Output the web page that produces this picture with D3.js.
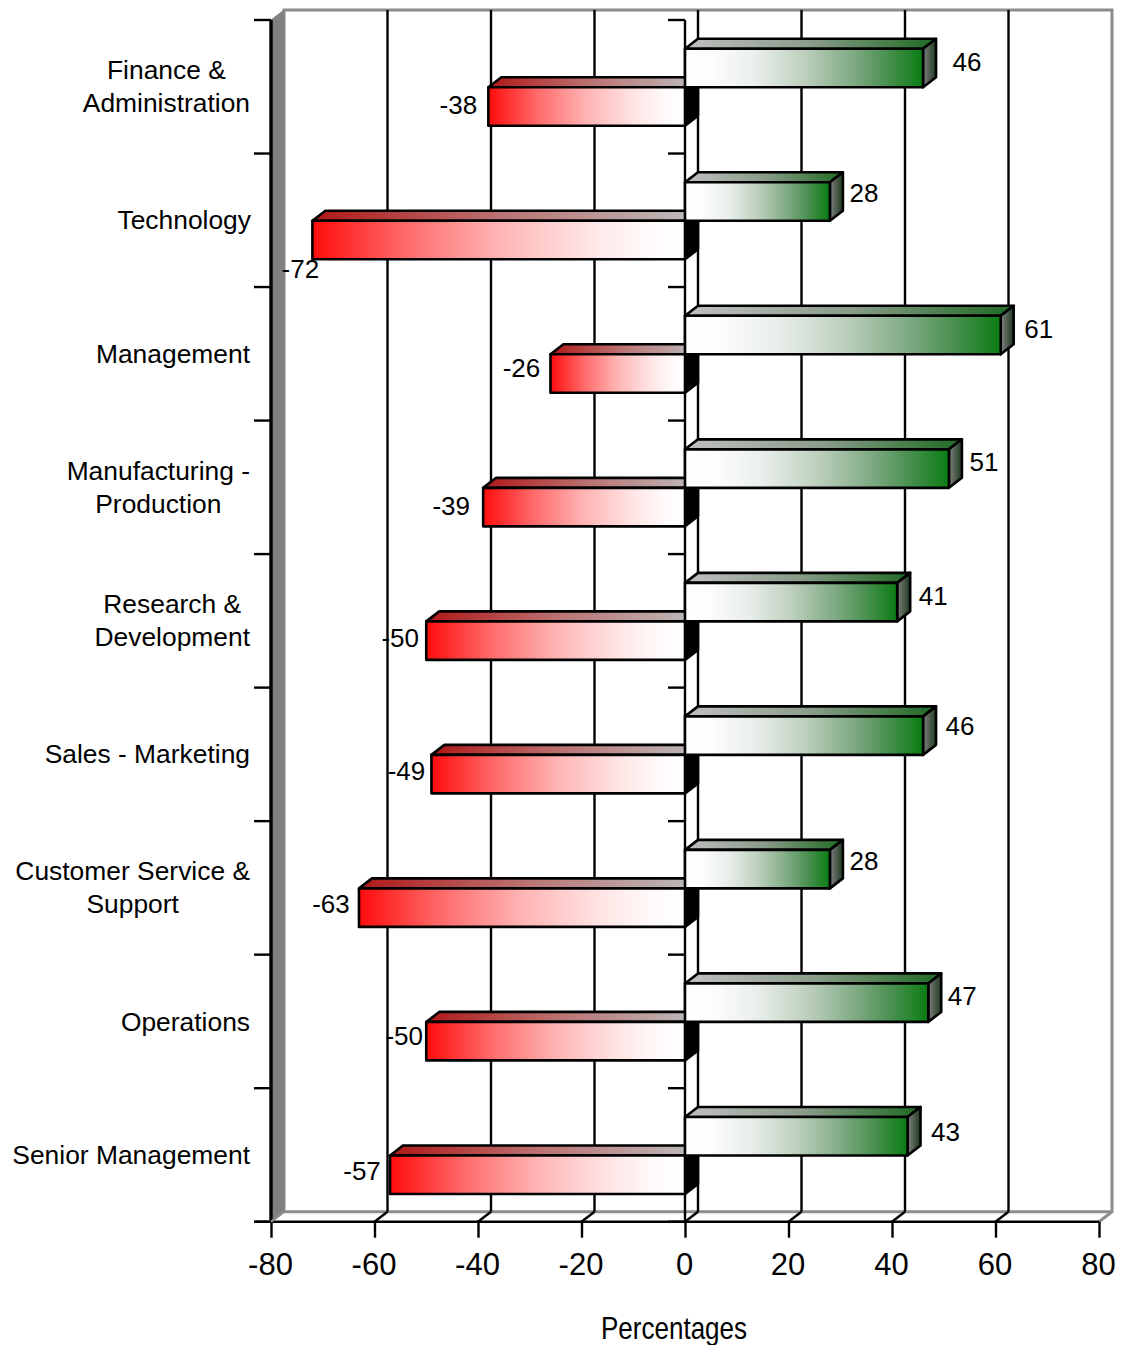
<!DOCTYPE html>
<html>
<head>
<meta charset="utf-8">
<script src="https://cdn.jsdelivr.net/npm/d3@7/dist/d3.min.js"></script>
<style>
html,body{margin:0;padding:0;background:#fff}
svg{display:block}
text{font-family:"Liberation Sans",Arial,sans-serif;fill:#000}
</style>
</head>
<body>
<svg id="chart" width="1129" height="1345"></svg>
<script>
// Department rows, top to bottom, each with a positive and a negative share
const categories = [
  ["Finance &", "Administration"],
  ["Technology"],
  ["Management"],
  ["Manufacturing -", "Production"],
  ["Research &", "Development"],
  ["Sales - Marketing"],
  ["Customer Service &", "Support"],
  ["Operations"],
  ["Senior Management"]
];
const positiveValues = [46, 28, 61, 51, 41, 46, 28, 47, 43];
const negativeValues = [-38, -72, -26, -39, -50, -49, -63, -50, -57];
const xTicks = [-80, -60, -40, -20, 0, 20, 40, 60, 80];

// Hand-placed value labels: centre of each label, measured from its bar end and row midline
const positiveLabelOffsets = [[44, -25], [34, -28], [38, -25], [35, -26], [36, -25], [37, -29], [34, -27], [34, -26], [38, -24]];
const negativeLabelOffsets = [[-30, 18], [-12, 48], [-29, 14], [-32, 18], [-26, 17], [-25, 16], [-28, 16], [-22, 14], [-28, 15]];

// Right-edge x and centre y of each category label block
const categoryAnchors = [
  [250, 86], [251, 219.5], [250, 353.5], [250, 487], [250, 620], [250, 753.5], [250, 887], [250, 1021.5], [250, 1154.5]
];

const svg = d3.select("#chart");
const depthX = 13, depthY = -10;
const x = d3.scaleLinear().domain([-80, 80]).range([271, 1099]);
const y = d3.scaleBand().domain(d3.range(categories.length)).range([20, 1221.7]);
const barH = 38.5;
const rowMid = i => y(i) + y.bandwidth() / 2 + 0.5;
const back = (px, py) => [px + depthX, py + depthY];
const plotTop = y.range()[0], plotBottom = y.range()[1];
const plotLeft = x.range()[0], plotRight = x.range()[1];
const line = d3.line();

// Horizontal gradient helper; stops run from the bar's left end to its right end
const defs = svg.append("defs");
function gradient(id, stops) {
  const g = defs.append("linearGradient").attr("id", id)
    .attr("x1", "0").attr("x2", "1").attr("y1", "0").attr("y2", "0");
  stops.forEach(([o, c]) => g.append("stop").attr("offset", o).attr("stop-color", c));
}
gradient("redFront", [[0, "#ff0c0c"], [0.25, "#ff6a6a"], [0.5, "#ffb4b4"], [0.75, "#ffe6e6"], [0.9, "#fffafa"], [1, "#ffffff"]]);
gradient("redTop", [[0, "#b01818"], [0.5, "#bb7474"], [1, "#bcbcbc"]]);
gradient("greenFront", [[0, "#ffffff"], [0.1, "#fefefe"], [0.3, "#e8eeea"], [0.5, "#bed0be"], [0.7, "#80ab85"], [0.85, "#4a9050"], [1, "#0a7d12"]]);
gradient("greenTop", [[0, "#c0c0c0"], [0.5, "#8a9c8a"], [1, "#1f6a22"]]);
gradient("greenSide", [[0, "#808080"], [1, "#1e3a20"]]);

// Back wall, floor edge and left wall
svg.append("path")
  .attr("d", line([back(plotLeft, plotBottom), back(plotLeft, plotTop), back(plotRight, plotTop), back(plotRight, plotBottom), [plotRight, plotBottom]]))
  .attr("fill", "#fff").attr("stroke", "#8c8c8c").attr("stroke-width", 3);
svg.append("path")
  .attr("d", line([back(plotLeft, plotBottom), back(plotRight, plotBottom)]))
  .attr("stroke", "#8c8c8c").attr("stroke-width", 3);
svg.append("path")
  .attr("d", line([[plotLeft, plotTop], back(plotLeft, plotTop), back(plotLeft, plotBottom), [plotLeft, plotBottom]]) + "Z")
  .attr("fill", "#808080").attr("stroke", "#808080").attr("stroke-width", 1);

// Gridlines on the back wall, each carried across the floor to its tick
xTicks.slice(1, -1).forEach(t => {
  const p = x(t);
  svg.append("path").attr("d", line([back(p, plotTop), back(p, plotBottom)]))
    .attr("stroke", "#000").attr("stroke-width", 2.4).attr("fill", "none");
  svg.append("path").attr("d", line([back(p, plotBottom), [p, plotBottom]]))
    .attr("stroke", "#000").attr("stroke-width", 2.4).attr("fill", "none");
});

// Zero axis and category axis with their band-boundary ticks
const yEdges = d3.range(categories.length + 1).map(i => plotTop + i * y.step());
svg.append("path").attr("d", line([[x(0), plotTop], [x(0), plotBottom]])).attr("stroke", "#000").attr("stroke-width", 2.4);
svg.append("path").attr("d", line([[plotLeft, plotTop], [plotLeft, plotBottom]])).attr("stroke", "#000").attr("stroke-width", 3.4);
yEdges.forEach(e => {
  svg.append("path").attr("d", line([[plotLeft - 17, e], [plotLeft, e]])).attr("stroke", "#000").attr("stroke-width", 2.4);
  svg.append("path").attr("d", line([[x(0) - 17, e], [x(0), e]])).attr("stroke", "#000").attr("stroke-width", 2.4);
});

function poly(points, fill) {
  return svg.append("path").attr("d", line(points) + "Z").attr("fill", fill)
    .attr("stroke", "#000").attr("stroke-width", 2.6).attr("stroke-linejoin", "round");
}

// Each row: the negative bar sits under the positive one so the green front overlaps its top face
categories.forEach((c, i) => {
  const m = rowMid(i), t = m - barH, b = m + barH;
  const x0 = x(0), xn = x(negativeValues[i]), xp = x(positiveValues[i]);

  poly([[xn, m], back(xn, m), back(x0, m), [x0, m]], "url(#redTop)");
  poly([[x0, m], back(x0, m), back(x0, b), [x0, b]], "#000");
  poly([[xn, m], [x0, m], [x0, b], [xn, b]], "url(#redFront)");

  poly([[x0, t], back(x0, t), back(xp, t), [xp, t]], "url(#greenTop)");
  poly([[xp, t], back(xp, t), back(xp, m), [xp, m]], "url(#greenSide)");
  poly([[x0, t], [xp, t], [xp, m], [x0, m]], "url(#greenFront)");
});

// Value labels go on last so they stay readable over the marks
categories.forEach((c, i) => {
  const m = rowMid(i);
  svg.append("text").attr("x", x(positiveValues[i]) + positiveLabelOffsets[i][0]).attr("y", m + positiveLabelOffsets[i][1])
    .attr("text-anchor", "middle").attr("dy", "0.35em").attr("font-size", 26).text(positiveValues[i]);
  svg.append("text").attr("x", x(negativeValues[i]) + negativeLabelOffsets[i][0]).attr("y", m + negativeLabelOffsets[i][1])
    .attr("text-anchor", "middle").attr("dy", "0.35em").attr("font-size", 26).text(negativeValues[i]);
});

// Value axis along the front of the floor, with plain hyphens on the negatives
const xAxis = d3.axisBottom(x).tickValues(xTicks).tickSize(16).tickPadding(15).tickFormat(d => String(d));
const gx = svg.append("g").attr("transform", `translate(0,${plotBottom})`).call(xAxis);
gx.select(".domain").remove();
gx.selectAll("line").attr("stroke", "#000").attr("stroke-width", 2.4);
gx.selectAll("text").attr("font-size", 31).attr("font-family", "Liberation Sans").attr("fill", "#000").attr("dx", -1);
svg.append("path").attr("d", line([[plotLeft - 17, plotBottom], [plotRight, plotBottom]])).attr("stroke", "#000").attr("stroke-width", 2.4);
// Floor corner ties at each end
svg.append("path").attr("d", line([[plotLeft, plotBottom], back(plotLeft, plotBottom)])).attr("stroke", "#8c8c8c").attr("stroke-width", 2.4);

// Category labels: lines are centred on each other, with the widest line ending at the anchor
categories.forEach((lines, i) => {
  const [ax, ay] = categoryAnchors[i];
  const g = svg.append("text").attr("font-size", 26.4);
  const spans = lines.map((ln, k) => g.append("tspan")
    .attr("y", ay + (k - (lines.length - 1) / 2) * 33).attr("dy", "0.35em").text(ln));
  const widest = d3.max(spans, s => s.node().getComputedTextLength());
  spans.forEach(s => s.attr("x", ax - widest / 2).attr("text-anchor", "middle"));
});

// Axis title, narrowed horizontally
svg.append("text").attr("transform", "translate(674,1339) scale(0.84,1)")
  .attr("text-anchor", "middle").attr("font-size", 31).text("Percentages");
</script>
</body>
</html>
